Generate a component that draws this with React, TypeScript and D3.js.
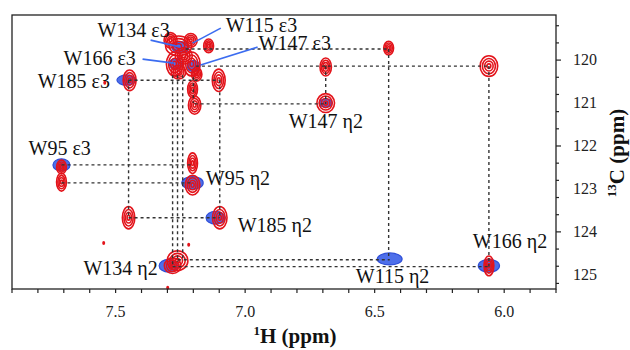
import React from "react";
import * as d3 from "d3";

// peak lists: [1H ppm, 13C ppm, half-width 1H, half-width 13C]
const bluePeaks: number[][] = [
  [7.458, 120.465, 0.037, 0.12],
  [7.249, 119.7, 0.033, 0.13],
  [7.268, 120.09, 0.025, 0.13],
  [7.199, 120.14, 0.025, 0.13],
  [6.689, 121.0, 0.025, 0.1],
  [7.709, 122.44, 0.033, 0.14],
  [7.203, 122.86, 0.041, 0.15],
  [7.114, 123.67, 0.037, 0.15],
  [7.295, 124.79, 0.037, 0.15],
  [6.442, 124.63, 0.048, 0.14],
  [6.059, 124.79, 0.041, 0.15],
];

const redPeaks: number[][] = [
  [7.446, 120.47, 0.025, 0.24],
  [7.102, 120.47, 0.025, 0.26],
  [7.257, 119.67, 0.05, 0.23],
  [7.288, 119.54, 0.025, 0.18],
  [7.21, 119.54, 0.025, 0.16],
  [7.237, 119.9, 0.033, 0.19],
  [7.272, 120.09, 0.032, 0.28],
  [7.206, 120.09, 0.032, 0.28],
  [7.257, 120.28, 0.028, 0.16],
  [7.187, 120.33, 0.02, 0.16],
  [7.141, 119.67, 0.019, 0.16],
  [7.203, 120.68, 0.019, 0.2],
  [7.195, 121.05, 0.024, 0.21],
  [6.689, 120.16, 0.022, 0.21],
  [6.689, 121.0, 0.034, 0.22],
  [6.446, 119.72, 0.019, 0.16],
  [6.059, 120.14, 0.034, 0.24],
  [7.709, 122.49, 0.019, 0.16],
  [7.709, 122.84, 0.019, 0.21],
  [7.203, 122.4, 0.019, 0.24],
  [7.203, 122.91, 0.028, 0.23],
  [7.45, 123.67, 0.024, 0.26],
  [7.098, 123.67, 0.028, 0.26],
  [7.261, 124.67, 0.04, 0.23],
  [7.28, 124.79, 0.032, 0.18],
  [6.059, 124.79, 0.019, 0.23],
];

const specks: number[][] = [
  [7.542, 120.53],
  [7.546, 124.26],
  [7.218, 124.3],
  [7.299, 125.3],
];

// connectivity: [13C, 1H from, 1H to]
const hLines: number[][] = [
  [119.74, 7.23, 6.446],
  [120.14, 7.19, 6.059],
  [120.47, 7.45, 7.1],
  [121.02, 7.195, 6.689],
  [122.44, 7.709, 7.21],
  [122.86, 7.709, 7.203],
  [123.67, 7.45, 7.098],
  [124.65, 7.26, 6.442],
  [124.81, 7.28, 6.059],
];

// [1H, 13C from, 13C to]
const vLines: number[][] = [
  [7.45, 120.47, 123.67],
  [7.28, 120.35, 124.81],
  [7.261, 120.35, 124.7],
  [7.241, 120.35, 124.65],
  [7.098, 120.47, 123.67],
  [6.689, 120.14, 121.02],
  [6.446, 119.74, 124.65],
  [6.059, 120.14, 124.81],
  [7.2, 120.4, 121.0],
];

const labels: [string, number, number][] = [
  ["W134 ε3", 7.57, 119.465],
  ["W115 ε3", 7.075, 119.349],
  ["W147 ε3", 6.948, 119.767],
  ["W166 ε3", 7.701, 120.116],
  ["W185 ε3", 7.801, 120.651],
  ["W147 η2", 6.832, 121.581],
  ["W95 ε3", 7.836, 122.209],
  ["W95 η2", 7.152, 122.907],
  ["W185 η2", 7.029, 124.0],
  ["W134 η2", 7.624, 125.0],
  ["W115 η2", 6.573, 125.186],
  ["W166 η2", 6.121, 124.372],
];

// leader lines [1H, 13C] -> [1H, 13C]
const leaders: number[][] = [
  [7.365, 119.535, 7.249, 119.698],
  [7.094, 119.256, 7.203, 119.605],
  [6.952, 119.698, 7.172, 120.116],
  [7.396, 119.977, 7.276, 120.07],
];

const xMajor = [7.5, 7.0, 6.5, 6.0];
const yMajor = [120, 121, 122, 123, 124, 125];

const W = 630;
const H = 350;
const m = { left: 12, right: 556, top: 15, bottom: 289 };
const FONT = "Liberation Serif, Times New Roman, serif";

export default function App() {
  const x = d3.scaleLinear().domain([7.9, 5.8]).range([m.left, m.right]);
  const y = d3.scaleLinear().domain([118.95, 125.33]).range([m.top, m.bottom]);

  const xMinor = d3.range(58, 80).map((v) => v / 10);
  const yMinor = d3.range(595, 627, 1).filter((v) => v % 2 === 0).map((v) => v / 5);

  const rings = [1, 0.74, 0.48, 0.22];

  return (
    <svg
      width={W}
      height={H}
      style={{ position: "absolute", left: 0, top: 0, background: "#fff", fontFamily: FONT }}
    >
      <rect x={0} y={0} width={W} height={H} fill="#fff" />
      {/* blue spectrum */}
      {bluePeaks.map((p, i) => (
        <ellipse
          key={"b" + i}
          cx={x(p[0])}
          cy={y(p[1])}
          rx={Math.abs(x(p[0] + p[2]) - x(p[0]))}
          ry={Math.abs(y(p[1] + p[3]) - y(p[1]))}
          fill="#3b5fe8"
          fillOpacity={0.9}
          stroke="#2f4fd8"
          strokeWidth={1.2}
        />
      ))}
      {/* red spectrum contours */}
      {redPeaks.map((p, i) =>
        rings.map((r, j) => (
          <ellipse
            key={"r" + i + "-" + j}
            cx={x(p[0])}
            cy={y(p[1])}
            rx={Math.abs(x(p[0] + p[2]) - x(p[0])) * r}
            ry={Math.abs(y(p[1] + p[3]) - y(p[1])) * r}
            fill="none"
            stroke="#e3141b"
            strokeWidth={1.6}
          />
        ))
      )}
      {specks.map((p, i) => (
        <ellipse key={"s" + i} cx={x(p[0])} cy={y(p[1])} rx={1.5} ry={2} fill="#e3141b" />
      ))}
      {/* connectivity lines */}
      {hLines.map((l, i) => (
        <line
          key={"h" + i}
          x1={x(l[1])}
          x2={x(l[2])}
          y1={y(l[0])}
          y2={y(l[0])}
          stroke="#333"
          strokeWidth={1.4}
          strokeDasharray="3,3"
        />
      ))}
      {vLines.map((l, i) => (
        <line
          key={"v" + i}
          x1={x(l[0])}
          x2={x(l[0])}
          y1={y(l[1])}
          y2={y(l[2])}
          stroke="#333"
          strokeWidth={1.4}
          strokeDasharray="3,3"
        />
      ))}
      {leaders.map((l, i) => (
        <line
          key={"l" + i}
          x1={x(l[0])}
          y1={y(l[1])}
          x2={x(l[2])}
          y2={y(l[3])}
          stroke="#3b6cf0"
          strokeWidth={1.6}
        />
      ))}
      {labels.map((d, i) => (
        <text key={"t" + i} x={x(d[1])} y={y(d[2])} fontSize={20} fill="#111">
          {d[0]}
        </text>
      ))}
      {/* frame */}
      <rect
        x={m.left}
        y={m.top}
        width={m.right - m.left}
        height={m.bottom - m.top}
        fill="none"
        stroke="#222"
        strokeWidth={1.3}
      />
      {/* x ticks */}
      {xMinor.map((v, i) => (
        <line key={"xt" + i} x1={x(v)} x2={x(v)} y1={m.bottom} y2={m.bottom + 4} stroke="#222" strokeWidth={1.2} />
      ))}
      {xMajor.map((v, i) => (
        <text key={"xl" + i} x={x(v)} y={317} fontSize={16} textAnchor="middle" fill="#222">
          {d3.format(".1f")(v)}
        </text>
      ))}
      {/* y ticks */}
      {yMinor.map((v, i) => (
        <line
          key={"yt" + i}
          x1={m.right}
          x2={m.right + (Number.isInteger(v) ? 5 : 3)}
          y1={y(v)}
          y2={y(v)}
          stroke="#222"
          strokeWidth={1.2}
        />
      ))}
      {yMajor.map((v, i) => (
        <text key={"yl" + i} x={573} y={y(v) + 5} fontSize={16} fill="#222">
          {v}
        </text>
      ))}
      <text x={295} y={343} fontSize={21} fontWeight="bold" textAnchor="middle" fill="#111">
        <tspan fontSize={13} dy={-8}>1</tspan>
        <tspan dy={8}>H (ppm)</tspan>
      </text>
      <text
        transform="translate(624,153) rotate(-90)"
        fontSize={21}
        fontWeight="bold"
        textAnchor="middle"
        fill="#111"
      >
        <tspan fontSize={13} dy={-8}>13</tspan>
        <tspan dy={8}>C (ppm)</tspan>
      </text>
    </svg>
  );
}
